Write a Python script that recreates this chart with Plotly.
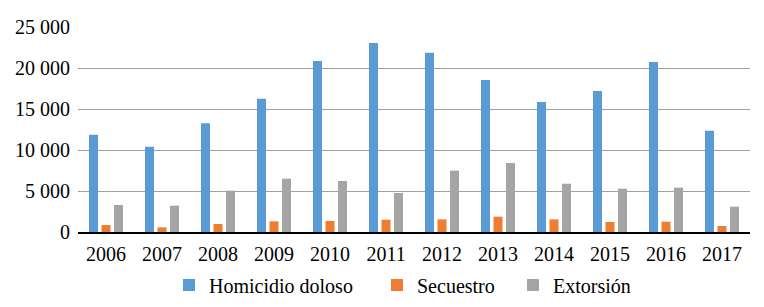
import plotly.graph_objects as go

years = ["2006", "2007", "2008", "2009", "2010", "2011",
         "2012", "2013", "2014", "2015", "2016", "2017"]
homicidio = [11870, 10400, 13250, 16260, 20850, 23050,
             21870, 18540, 15850, 17200, 20730, 12360]
secuestro = [850, 570, 980, 1300, 1340, 1500,
             1540, 1870, 1540, 1220, 1260, 730]
extorsion = [3290, 3210, 5040, 6500, 6220, 4760,
             7480, 8410, 5890, 5280, 5410, 3090]

y_tickvals = [0, 5000, 10000, 15000, 20000, 25000]
y_ticktext = ["0", "5 000", "10 000", "15 000", "20 000", "25 000"]

names = ["Homicidio doloso", "Secuestro", "Extorsión"]
colors = ["#5B9BD5", "#ED7D31", "#A5A5A5"]
series = [homicidio, secuestro, extorsion]
legends = ["legend", "legend2", "legend3"]

FONT = "Liberation Serif, Times New Roman, serif"

fig = go.Figure()
for name, vals, col, lg in zip(names, series, colors, legends):
    fig.add_trace(go.Bar(x=years, y=vals, name=name, marker_color=col,
                         marker_line_width=0, legend=lg))

W, H = 764, 307
L, R, T, B = 78, 14, 27, 75
legend_common = dict(orientation="h", yanchor="middle", y=1 - 285 / H,
                     yref="container", xref="container",
                     xanchor="left", bgcolor="rgba(0,0,0,0)",
                     font=dict(family=FONT, size=20, color="black"))
lx = [169, 377, 513]

fig.update_layout(
    width=W, height=H,
    margin=dict(l=L, r=R, t=T, b=B, pad=0),
    paper_bgcolor="white", plot_bgcolor="white",
    barmode="group", bargap=0.33, bargroupgap=0.28,
    showlegend=True,
    font=dict(family=FONT, size=20, color="black"),
    legend=dict(x=lx[0] / W, **legend_common),
    legend2=dict(x=lx[1] / W, **legend_common),
    legend3=dict(x=lx[2] / W, **legend_common),
    xaxis=dict(showline=True, linecolor="black", linewidth=2,
               showgrid=False, ticks="", ticklabelstandoff=3,
               automargin=False,
               tickfont=dict(family=FONT, size=20, color="black")),
    yaxis=dict(range=[0, 25000], tickvals=y_tickvals, ticktext=y_ticktext,
               showgrid=True, gridcolor="#A0A0A0", gridwidth=1,
               zeroline=False, showline=False, ticks="",
               ticklabelstandoff=7, automargin=False,
               tickfont=dict(family=FONT, size=20, color="black")),
)

fig.write_html("out.html",
               config={"displayModeBar": False},
               post_script="document.body.style.margin='0';")
